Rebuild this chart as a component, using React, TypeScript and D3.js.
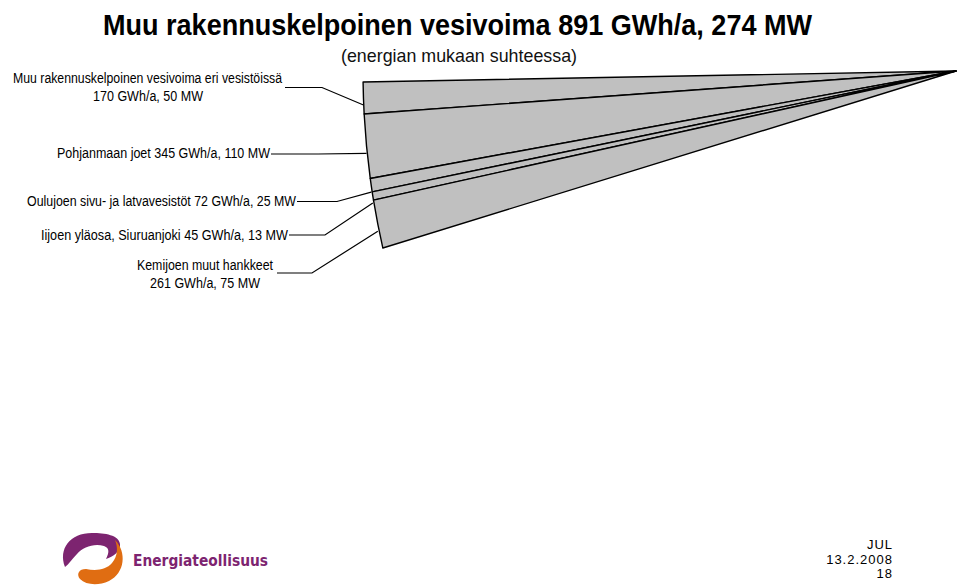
import React from "react";
import * as d3 from "d3";

// ---- data ----
const categories = [
  "Muu rakennuskelpoinen vesivoima eri vesistöissä",
  "Pohjanmaan joet",
  "Oulujoen sivu- ja latvavesistöt",
  "Iijoen yläosa, Siuruanjoki",
  "Kemijoen muut hankkeet",
];
const energyGWh = [170, 345, 72, 45, 261];
const powerMW = [50, 110, 25, 13, 75];
const titleText = "Muu rakennuskelpoinen vesivoima 891 GWh/a, 274 MW";
const subtitleText = "(energian mukaan suhteessa)";
const footerLines = ["JUL", "13.2.2008", "18"];

// ---- layout (not data) ----
const W = 960;
const H = 587;
const apex = { x: 956, y: 71 };
const R = 593;
const yStretch = 1.163; // 3D-tilted pie: ellipse stretched vertically
const startA = -1.5867;
const endA = -1.8304;

type LabelLayout = {
  lines: { text: string; x1: number; x2: number; y: number }[];
  leaderY: number;
  leaderX0: number;
  elbowX: number;
};

const fmt = (i: number) => `${energyGWh[i]} GWh/a, ${powerMW[i]} MW`;

const labelLayout: LabelLayout[] = [
  {
    lines: [
      { text: categories[0], x1: 13, x2: 282, y: 83 },
      { text: fmt(0), x1: 93, x2: 203, y: 101 },
    ],
    leaderY: 87.5,
    leaderX0: 285,
    elbowX: 322,
  },
  {
    lines: [{ text: `${categories[1]} ${fmt(1)}`, x1: 57, x2: 270, y: 158 }],
    leaderY: 154,
    leaderX0: 271,
    elbowX: 318,
  },
  {
    lines: [{ text: `${categories[2]} ${fmt(2)}`, x1: 27, x2: 296, y: 206 }],
    leaderY: 201.5,
    leaderX0: 297,
    elbowX: 337,
  },
  {
    lines: [{ text: `${categories[3]} ${fmt(3)}`, x1: 41, x2: 288, y: 240 }],
    leaderY: 235,
    leaderX0: 289,
    elbowX: 325,
  },
  {
    lines: [
      { text: categories[4], x1: 137, x2: 273, y: 270 },
      { text: fmt(4), x1: 150, x2: 260, y: 288 },
    ],
    leaderY: 273,
    leaderX0: 277,
    elbowX: 312,
  },
];

export default function App() {
  const pie = d3
    .pie<number>()
    .sort(null)
    .value((d) => d)
    .startAngle(startA)
    .endAngle(endA);
  const arcs = pie(energyGWh);
  const arcGen = d3.arc<d3.PieArcDatum<number>>().innerRadius(0).outerRadius(R);

  const edgePoint = (a: d3.PieArcDatum<number>) => {
    const m = (a.startAngle + a.endAngle) / 2;
    return {
      x: apex.x + R * Math.sin(m),
      y: apex.y - R * Math.cos(m) * yStretch + 7,
    };
  };

  const font = "'Liberation Sans', Arial, sans-serif";

  return (
    <svg
      width={W}
      height={H}
      viewBox={`0 0 ${W} ${H}`}
      style={{ position: "absolute", left: 0, top: 0, background: "#fff" }}
    >
      <rect x={0} y={0} width={W} height={H} fill="#fff" />
      <text
        x={103}
        y={35}
        fontFamily={font}
        fontWeight="bold"
        fontSize={30}
        textLength={709}
        lengthAdjust="spacingAndGlyphs"
        fill="#000"
      >
        {titleText}
      </text>
      <text
        x={341}
        y={62}
        fontFamily={font}
        fontSize={19}
        textLength={236}
        lengthAdjust="spacingAndGlyphs"
        fill="#111"
      >
        {subtitleText}
      </text>

      <g transform={`translate(${apex.x},${apex.y}) scale(1,${yStretch})`}>
        {arcs.map((a, i) => (
          <path
            key={i}
            d={arcGen(a) || ""}
            fill="#c0c0c0"
            stroke="#000"
            strokeWidth={1.4}
            strokeLinejoin="round"
            vectorEffect="non-scaling-stroke"
          />
        ))}
      </g>

      {labelLayout.map((l, i) => {
        const p = edgePoint(arcs[i]);
        return (
          <g key={i}>
            {l.lines.map((ln, j) => (
              <text
                key={j}
                x={ln.x1}
                y={ln.y}
                fontFamily={font}
                fontSize={14}
                textLength={ln.x2 - ln.x1}
                lengthAdjust="spacingAndGlyphs"
                fill="#000"
              >
                {ln.text}
              </text>
            ))}
            <polyline
              points={`${l.leaderX0},${l.leaderY} ${l.elbowX},${l.leaderY} ${p.x},${p.y}`}
              fill="none"
              stroke="#000"
              strokeWidth={1.2}
            />
          </g>
        );
      })}

      {/* logo */}
      <g>
        <path
          d="M65,567 C58,549 70,533 92,533 C105,533 119,535 120,544 C121,551 113,557 106,559 C109,553 110,548 104,546 C94,543 83,547 77,554 C72,559 69,564 65,567 Z"
          fill="#7d2470"
        />
        <path
          d="M115,540 C127,552 125,573 109,581 C98,586 86,585 80,579 C76,574 79,569 86,569 C96,571 106,570 112,563 C118,556 118,547 115,540 Z"
          fill="#e06d12"
        />
        <text
          x={133}
          y={566}
          fontFamily="'DejaVu Sans', sans-serif"
          fontWeight="bold"
          fontSize={15}
          textLength={135}
          lengthAdjust="spacingAndGlyphs"
          fill="#7d2470"
        >
          Energiateollisuus
        </text>
      </g>

      {footerLines.map((t, i) => (
        <text
          key={i}
          x={893}
          y={549 + i * 14.5}
          textAnchor="end"
          fontFamily={font}
          fontSize={13}
          letterSpacing={1}
          fill="#000"
        >
          {t}
        </text>
      ))}
    </svg>
  );
}
